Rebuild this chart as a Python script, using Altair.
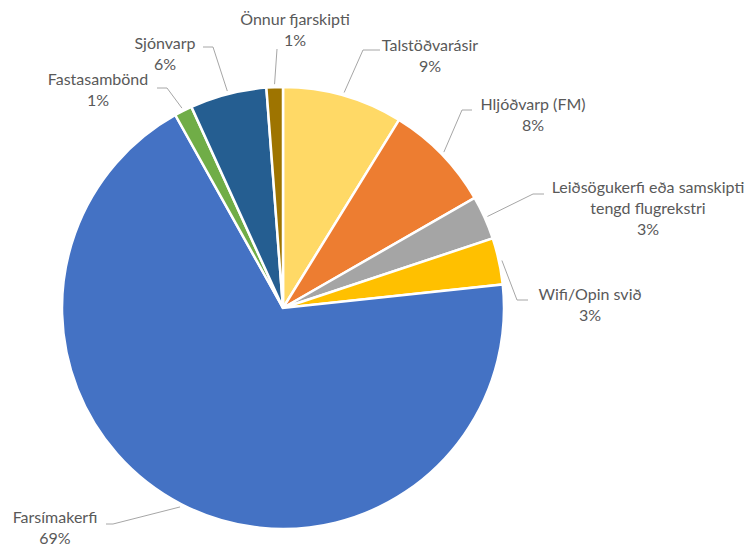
import math
import altair as alt
import pandas as pd

# ---- data ----
categories = ["Talstöðvarásir", "Hljóðvarp (FM)", "Leiðsögukerfi eða samskipti\ntengd flugrekstri",
              "Wifi/Opin svið", "Farsímakerfi", "Fastasambönd", "Sjónvarp", "Önnur fjarskipti"]
values = [8.8, 7.9, 3.2, 3.4, 68.6, 1.3, 5.6, 1.2]
colors = ["#FFD966", "#ED7D31", "#A5A5A5", "#FFC000", "#4472C4", "#70AD47", "#255E91", "#9E7400"]

# ---- layout (pixels relative to pie centre, y up; label y = first line) ----
CX, CY, R = 283, 308, 221
W, H = 746, 548
label_pos = [(147, 262), (250, 203), (365, 120), (307, 13), (-228, -210), (-185, 228), (-118, 264), (12, 288)]
elbows = [(80, 258), (179, 198), (250, 114), (234, 8), (-170, -216), (-116, 220), (-70, 261), (-6, 259)]
ends = [(97, 258), (189, 198), (261, 114), (245, 8), (-177, -216), (-126, 220), (-80, 261), (-6, 259)]

total = sum(values)
pie_df = pd.DataFrame({"name": categories, "value": values, "order": list(range(len(values)))})

lab_rows, line_rows = [], []
cum = 0.0
for i, (c, v) in enumerate(zip(categories, values)):
    mid = (cum + v / 2) / total * 2 * math.pi
    cum += v
    pct = round(v / total * 100)
    lab_rows.append({"name": c, "text": f"{c}\n{pct}%", "x": label_pos[i][0], "y": label_pos[i][1]})
    sx, sy = (R + 3) * math.sin(mid), (R + 3) * math.cos(mid)
    for k, (px, py) in enumerate([(sx, sy), elbows[i], ends[i]]):
        line_rows.append({"name": c, "seq": k, "x": px, "y": py})

lab_df = pd.DataFrame(lab_rows)
line_df = pd.DataFrame(line_rows)

xs = alt.Scale(domain=[-CX, W - CX], nice=False, zero=False)
ys = alt.Scale(domain=[-(H - CY), CY], nice=False, zero=False)

pie = alt.Chart(pie_df).mark_arc(outerRadius=R, stroke="white", strokeWidth=2.5).encode(
    theta=alt.Theta("value:Q", stack=True),
    order=alt.Order("order:Q"),
    color=alt.Color("name:N", scale=alt.Scale(domain=categories, range=colors), legend=None),
    x=alt.datum(0, scale=xs, axis=None),
    y=alt.datum(0, scale=ys, axis=None),
)

lines = alt.Chart(line_df).mark_line(color="#A6A6A6", strokeWidth=1).encode(
    x=alt.X("x:Q", scale=xs, axis=None),
    y=alt.Y("y:Q", scale=ys, axis=None),
    detail="name:N",
    order="seq:Q",
)

labels = alt.Chart(lab_df).mark_text(
    font="Lato", fontSize=16, color="#595959", align="center", baseline="middle",
    lineBreak="\n", lineHeight=21
).encode(
    x=alt.X("x:Q", scale=xs, axis=None),
    y=alt.Y("y:Q", scale=ys, axis=None),
    text="text:N",
)

chart = alt.layer(lines, pie, labels).properties(
    width=W, height=H, autosize=alt.AutoSizeParams(type="none"), padding=0
).configure_view(stroke=None)

chart.save("out.html", embed_options={"renderer": "svg", "actions": False})
